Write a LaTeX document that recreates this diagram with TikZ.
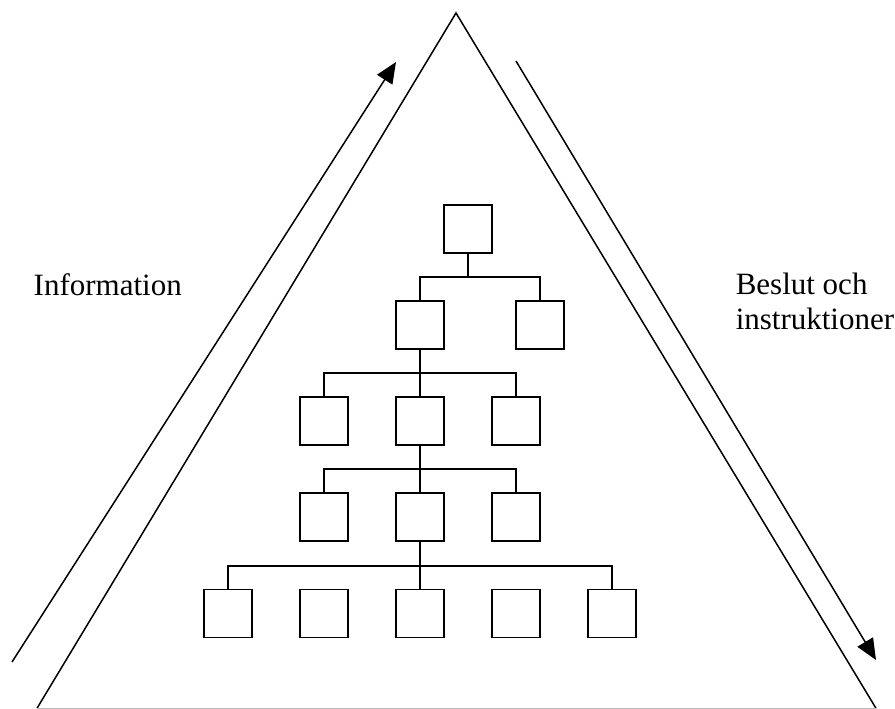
\documentclass[tikz,border=0pt]{standalone}
\usepackage{fontspec}
\setmainfont{Liberation Serif}
\usetikzlibrary{arrows.meta}
\begin{document}
\begin{tikzpicture}[x=1pt,y=-1pt,
  line width=1.5pt,
  orgbox/.style={draw,line width=1.5pt,minimum width=48pt,minimum height=48pt,inner sep=0pt},
  flow/.style={-{Triangle[length=21pt,width=18pt]},line width=1.5pt},
  label/.style={inner sep=0pt,font=\fontsize{31}{35}\selectfont,align=left}]
\useasboundingbox (0,0) rectangle (895,709);

% outer pyramid
\coordinate (apex) at (456,13);
\coordinate (bl) at (37,708.3);
\coordinate (br) at (876,708.3);
\draw (bl) -- (apex) -- (br);
\draw[gray!55,line width=1.2pt] (bl) -- (br);

% information flows up, decisions flow down
\coordinate (infoS) at (12,662);
\coordinate (infoE) at (396,62);
\coordinate (beslS) at (516,61);
\coordinate (beslE) at (876,660);
\draw[flow] (infoS) -- (infoE);
\draw[flow] (beslS) -- (beslE);

\node[label,anchor=base west] (info) at (33,295) {Information};
\node[label,anchor=north west] (besl) at (735,272) {Beslut och\\instruktioner};

% organisation chart
\node[orgbox] (b0) at (468,229) {};
\node[orgbox] (b1l) at (420,325) {};
\node[orgbox] (b1r) at (540,325) {};
\node[orgbox] (b2a) at (324,421) {};
\node[orgbox] (b2b) at (420,421) {};
\node[orgbox] (b2c) at (516,421) {};
\node[orgbox] (b3a) at (324,517) {};
\node[orgbox] (b3b) at (420,517) {};
\node[orgbox] (b3c) at (516,517) {};
\node[orgbox] (b4a) at (228,613.5) {};
\node[orgbox] (b4b) at (324,613.5) {};
\node[orgbox] (b4c) at (420,613.5) {};
\node[orgbox] (b4d) at (516,613.5) {};
\node[orgbox] (b4e) at (612,613.5) {};

\coordinate (bus1) at (468,277);
\coordinate (bus2) at (420,373);
\coordinate (bus3) at (420,469);
\coordinate (bus4) at (420,566);

\draw (b0.south) -- (bus1) -| (b1l.north);
\draw (bus1) -| (b1r.north);
\draw (b1l.south) -- (b2b.north);
\draw (bus2) -| (b2a.north);
\draw (bus2) -| (b2c.north);
\draw (b2b.south) -- (b3b.north);
\draw (bus3) -| (b3a.north);
\draw (bus3) -| (b3c.north);
\draw (b3b.south) -- (b4c.north);
\draw (bus4) -| (b4a.north);
\draw (bus4) -| (b4e.north);
\end{tikzpicture}
\end{document}
